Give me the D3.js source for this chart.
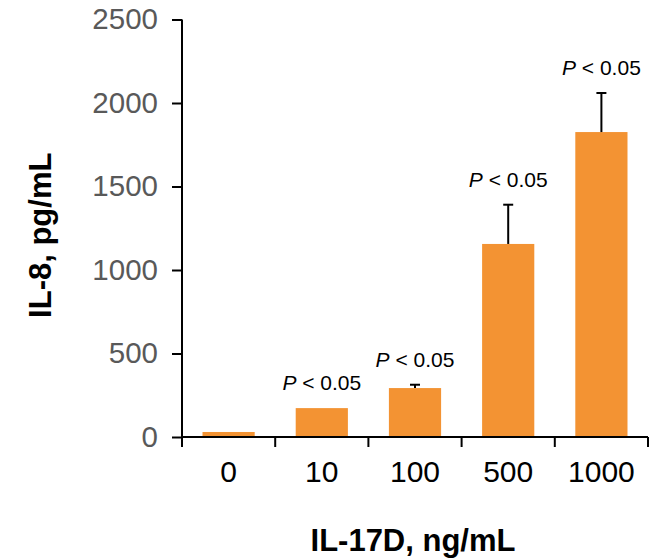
<!DOCTYPE html>
<html><head><meta charset="utf-8">
<script src="https://cdn.jsdelivr.net/npm/d3@7"></script>
<style>body{margin:0;background:#fff}svg{display:block}</style>
</head><body>
<svg id="chart" width="659" height="558"></svg>
<script>
const categories = ["0", "10", "100", "500", "1000"];
const values = [30, 173, 293, 1156, 1826];
const errors = [0, 0, 20, 235, 234];
const pLabels = ["", "P < 0.05", "P < 0.05", "P < 0.05", "P < 0.05"];
const yTicks = [0, 500, 1000, 1500, 2000, 2500];
const xTitle = "IL-17D, ng/mL";
const yTitle = "IL-8, pg/mL";

(function () {
const svg = d3.select("#chart");
const mLeft = 182, mRight = 648, mTop = 19.5, mBottom = 437;
const x = d3.scaleBand().domain(categories).range([mLeft, mRight]).paddingInner(0.44).paddingOuter(0.22);
const y = d3.scaleLinear().domain([0, 2500]).range([mBottom, mTop]);
const font = "Liberation Sans, Arial, Helvetica, sans-serif";
const barColor = "#F39333";

// bars
svg.selectAll("rect.bar").data(categories).enter().append("rect")
  .attr("class", "bar")
  .attr("x", d => x(d))
  .attr("width", x.bandwidth())
  .attr("y", (d, i) => y(values[i]))
  .attr("height", (d, i) => y(0) - y(values[i]))
  .attr("fill", barColor);

// error bars
const eb = svg.selectAll("g.err").data(categories.filter((d, i) => errors[i] > 0)).enter().append("g");
eb.append("line")
  .attr("x1", d => x(d) + x.bandwidth() / 2).attr("x2", d => x(d) + x.bandwidth() / 2)
  .attr("y1", d => y(values[categories.indexOf(d)]))
  .attr("y2", d => { const i = categories.indexOf(d); return y(values[i] + errors[i]); })
  .attr("stroke", "#000").attr("stroke-width", 2);
eb.append("line")
  .attr("x1", d => x(d) + x.bandwidth() / 2 - 5).attr("x2", d => x(d) + x.bandwidth() / 2 + 5)
  .attr("y1", d => { const i = categories.indexOf(d); return y(values[i] + errors[i]); })
  .attr("y2", d => { const i = categories.indexOf(d); return y(values[i] + errors[i]); })
  .attr("stroke", "#000").attr("stroke-width", 2);

// P labels
categories.forEach((c, i) => {
  if (!pLabels[i]) return;
  const t = svg.append("text")
    .attr("x", x(c) + x.bandwidth() / 2)
    .attr("y", y(values[i] + errors[i]) - 18)
    .attr("text-anchor", "middle")
    .attr("font-family", font).attr("font-size", 21).attr("fill", "#000");
  const parts = pLabels[i].split(" ");
  t.append("tspan").attr("font-style", "italic").text(parts[0]);
  t.append("tspan").text(" " + parts.slice(1).join(" "));
});

// y axis
const yAxis = svg.append("g").attr("transform", `translate(${mLeft},0)`)
  .call(d3.axisLeft(y).tickValues(yTicks).tickSize(10).tickPadding(14).tickFormat(d3.format("d")));
yAxis.select(".domain").attr("stroke", "#000").attr("stroke-width", 2).attr("d", `M0,${mTop}V${mBottom}`);
yAxis.selectAll(".tick line").attr("stroke", "#000").attr("stroke-width", 2);
yAxis.selectAll(".tick text").attr("font-family", font).attr("font-size", 29.5).attr("fill", "#595959");

// x axis
const xAxis = svg.append("g").attr("transform", `translate(0,${mBottom})`)
  .call(d3.axisBottom(x).tickSize(0).tickPadding(24));
xAxis.select(".domain").attr("stroke", "#000").attr("stroke-width", 2).attr("d", `M${mLeft},0H${mRight}`);
xAxis.selectAll(".tick text").attr("font-family", font).attr("font-size", 30).attr("fill", "#000");
const step = x.step();
const bounds = categories.map(c => x(c) - (step - x.bandwidth()) / 2).concat([mRight]);
xAxis.selectAll("line.bnd").data(bounds).enter().append("line")
  .attr("x1", d => d).attr("x2", d => d).attr("y1", 0).attr("y2", 10)
  .attr("stroke", "#000").attr("stroke-width", 2);

// titles
svg.append("text").attr("x", (mLeft + mRight) / 2 - 2).attr("y", 551)
  .attr("text-anchor", "middle").attr("font-family", font).attr("font-weight", "bold")
  .attr("font-size", 31).attr("fill", "#000").text(xTitle);
svg.append("text").attr("transform", `translate(51,${(mTop + mBottom) / 2 + 7}) rotate(-90)`)
  .attr("text-anchor", "middle").attr("font-family", font).attr("font-weight", "bold")
  .attr("font-size", 31).attr("fill", "#000").text(yTitle);
})();
</script>
</body></html>
